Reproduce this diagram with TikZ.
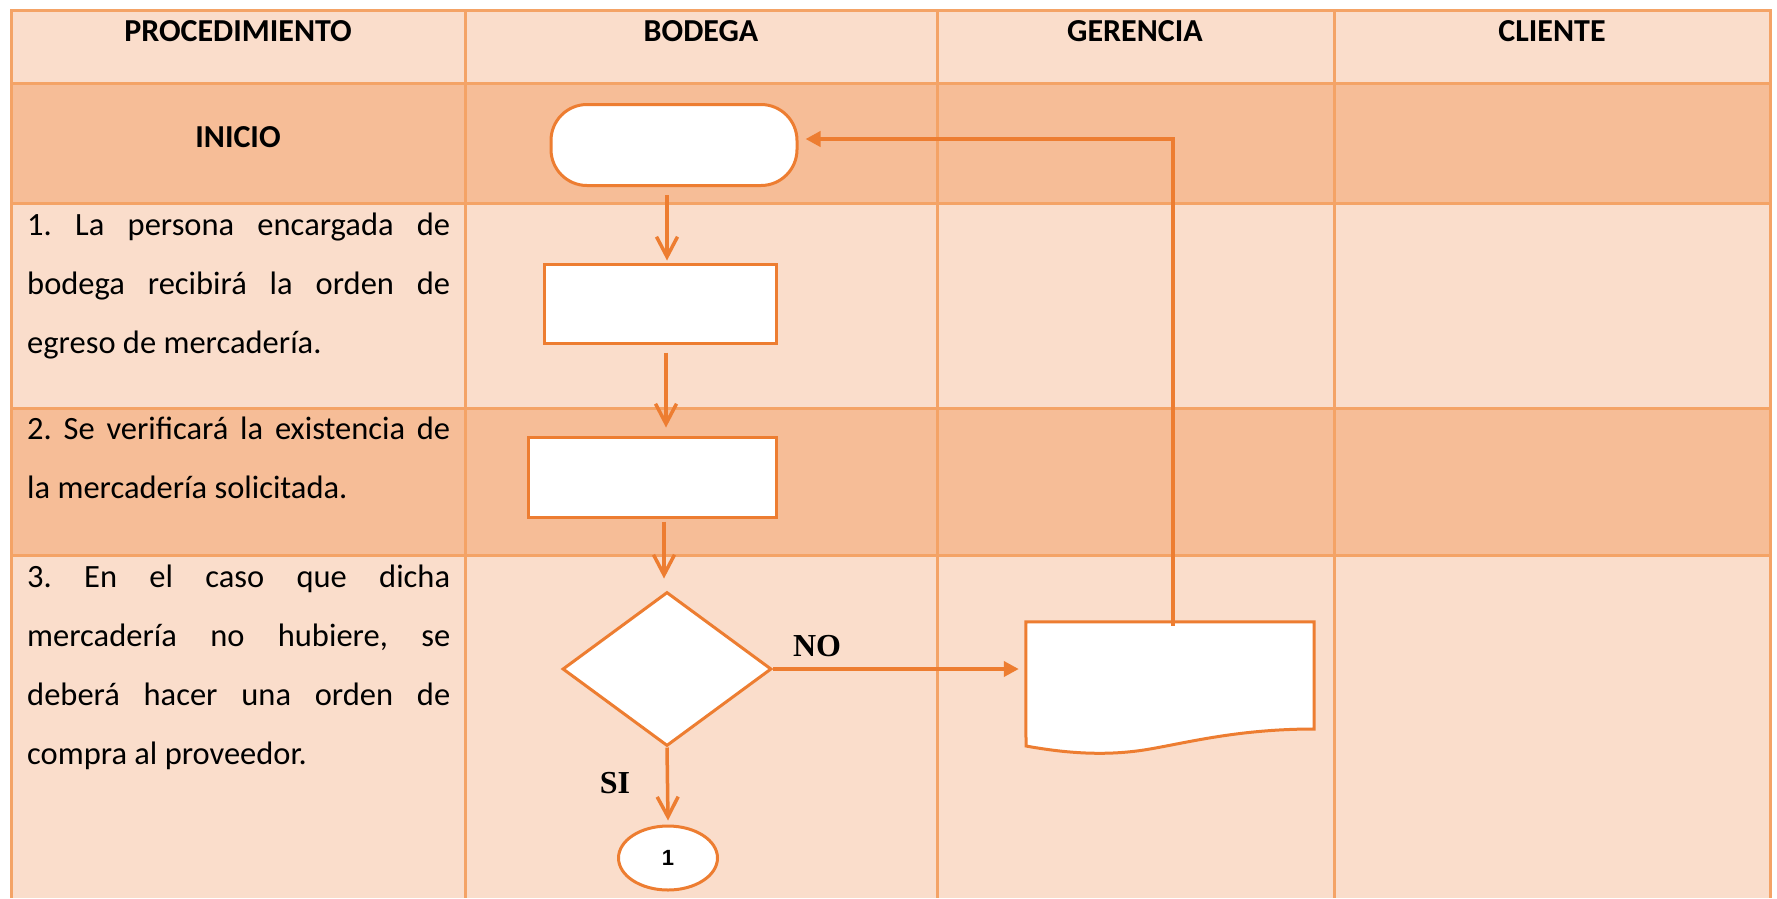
\documentclass[tikz,border=0pt]{standalone}
\usepackage{fontspec}
\setmainfont{Carlito}
\newfontfamily\tnr{Liberation Serif}
\newfontfamily\arial{Liberation Sans}
\usetikzlibrary{arrows.meta,shapes}
\definecolor{fondo1}{HTML}{FADDCB}
\definecolor{fondo2}{HTML}{F6BD97}
\definecolor{borde}{HTML}{F4A366}
\definecolor{naranja}{HTML}{ED7D31}
\frenchspacing
\tikzstyle{forma}=[draw=naranja,fill=white,line width=3pt,inner sep=0pt]
\tikzstyle{proceso}=[forma,rectangle]
\tikzstyle{terminal}=[forma,rectangle,rounded corners=36pt,minimum width=246pt,minimum height=81pt]
\tikzstyle{decision}=[forma,diamond,minimum width=209pt,minimum height=154pt]
\tikzstyle{conector}=[forma,ellipse,minimum width=99pt,minimum height=64pt]
\tikzstyle{flecha}=[-{Straight Barb[length=20pt,width=21pt]},naranja,line width=3.5pt]
\tikzstyle{flechab}=[-{Triangle[length=15pt,width=15pt]},naranja,line width=4pt]
\tikzstyle{titulo}=[font=\fontsize{32}{38}\selectfont\bfseries,anchor=base,inner sep=0pt]
\tikzstyle{paso}=[font=\fontsize{32.5}{59}\selectfont,text width=423pt,align=justify,anchor=north west,inner sep=0pt]
\tikzstyle{etiq}=[font=\fontsize{32}{38}\selectfont\tnr\bfseries,inner sep=0pt]

\begin{document}
\begin{tikzpicture}[x=1pt,y=-1pt]
\useasboundingbox (0,0) rectangle (1777,898);
% filas de la tabla
\fill[fondo1] (11,10) rectangle (1770,83);
\fill[fondo2] (11,83) rectangle (1770,203);
\fill[fondo1] (11,203) rectangle (1770,408);
\fill[fondo2] (11,408) rectangle (1770,555);
\fill[fondo1] (11,555) rectangle (1770,898);
\draw[borde,line width=3pt] (11,898) -- (11,10) -- (1770,10) -- (1770,898);
\draw[borde,line width=3pt] (11,83) -- (1770,83) (11,203) -- (1770,203) (11,408) -- (1770,408) (11,555) -- (1770,555);
\draw[borde,line width=3pt] (465,10) -- (465,898) (937,10) -- (937,898) (1334,10) -- (1334,898);
% textos
\node[titulo] (h1) at (238,41) {PROCEDIMIENTO};
\node[titulo] (h2) at (701,41) {BODEGA};
\node[titulo] (h3) at (1135,41) {GERENCIA};
\node[titulo] (h4) at (1552,41) {CLIENTE};
\node[titulo] (inicio) at (238,147) {INICIO};
\node[paso] (p1) at (27,194) {\strut 1. La persona encargada de\linebreak bodega recibirá la orden de\linebreak egreso de mercadería.};
\node[paso] (p2) at (27,398) {\strut 2. Se verificará la existencia de\linebreak la mercadería solicitada.};
\node[paso] (p3) at (27,546) {\strut 3. En el caso que dicha\linebreak mercadería no hubiere, se\linebreak deberá hacer una orden de\linebreak compra al proveedor.};
% diagrama
\node[terminal] (inicioT) at (674,145) {};
\node[proceso,minimum width=232pt,minimum height=79pt] (recibir) at (660,303.5) {};
\node[proceso,minimum width=248pt,minimum height=80pt] (verificar) at (652,477) {};
\node[decision] (existe) at (667,669) {};
\node[conector,font=\arial\bfseries\fontsize{22}{26}\selectfont] (uno) at (668,858) {\raisebox{-5pt}{1}};
\node[inner sep=0pt,minimum width=288pt,minimum height=126pt] (orden) at (1170,685) {};
\filldraw[forma] (orden.north west) -- (orden.north east) -- (1314,729) .. controls (1240,729) and (1190,742) .. (1150,749) .. controls (1110,756) and (1070,754) .. (1026,746) -- cycle;
\draw[flecha] ([xshift=-7pt,yshift=-8pt]inicioT.south) -- ([xshift=7pt,yshift=2pt]recibir.north);
\draw[flecha] ([xshift=6pt,yshift=-8pt]recibir.south) -- ([xshift=14pt,yshift=8pt]verificar.north);
\draw[flecha] ([xshift=12pt,yshift=-3pt]verificar.south) -- ([xshift=-3pt,yshift=12pt]existe.north);
\draw[flechab,shorten >=7pt] (existe.east) -- (existe.east -| orden.west);
\draw[flecha] (existe.south) -- ([yshift=4pt]uno.north);
\draw[flechab] ([xshift=3pt,yshift=-4pt]orden.north) |- ([xshift=7pt,yshift=6pt]inicioT.east);
\node[etiq] (no) at (817,646) {NO};
\node[etiq] (si) at (615,783) {SI};
\end{tikzpicture}
\end{document}
